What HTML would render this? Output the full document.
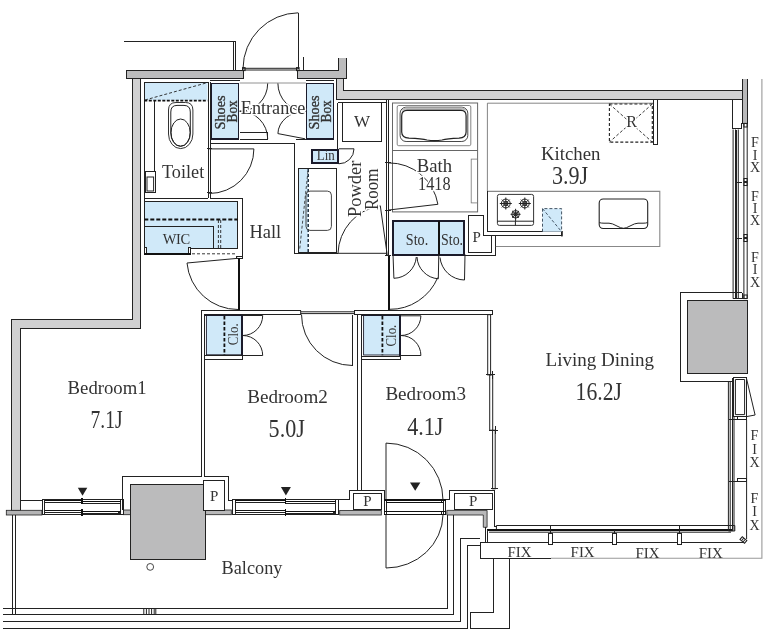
<!DOCTYPE html>
<html><head><meta charset="utf-8"><title>Floor Plan</title>
<style>
html,body{margin:0;padding:0;background:#fff;}
svg{display:block;}
text{font-family:"Liberation Serif",serif;fill:#333;}
.l{stroke:#222;stroke-width:1;fill:none;}
.t{stroke:#222;stroke-width:1;fill:none;}
.g{stroke:#777;stroke-width:.8;fill:none;}
.k{stroke:#111;stroke-width:1.8;fill:none;}
.w{fill:#c9caca;stroke:#222;stroke-width:1;}
.c{fill:#bbbbbc;stroke:#222;stroke-width:1;}
.b{fill:#d0e9f9;stroke:#1b1b2b;stroke-width:1.6;}
.bf{fill:#d0e9f9;stroke:none;}
.d{stroke:#222;stroke-width:.9;fill:none;stroke-dasharray:3 2;}
.dk{stroke:#111;stroke-width:1.8;fill:none;stroke-dasharray:4 2;}
.l,.k,.w,.c,.b{shape-rendering:crispEdges;}
.a{shape-rendering:auto;}
.h{stroke:#fff;stroke-width:3;paint-order:stroke;stroke-linejoin:round;}
</style></head><body>
<svg width="779" height="637" viewBox="0 0 779 637">
<rect width="779" height="637" fill="#fff"/>
<!--WALLS-->
<g id="walls">
<rect x="126.3" y="70.5" width="116.9" height="7.7" style="fill:#bcbcbd;stroke:#222;stroke-width:1;shape-rendering:crispEdges"/>
<path d="M132,78.2H140V328.6H20V510.4H11.6V319.6H132Z" style="fill:#d0d0d1;stroke:#222;stroke-width:1;shape-rendering:crispEdges"/>
<rect x="6.3" y="510.3" width="35.6" height="4.7" style="fill:#b4b4b5;stroke:#222;stroke-width:.8"/>
<path d="M336,78.2H343.1V90.6H742.1V99.5H336Z" style="fill:#d0d0d1;stroke:#222;stroke-width:1;shape-rendering:crispEdges"/>
<path d="M338.5,58V70.5H297.5V78.2H346.7V58" style="fill:#bcbcbd;stroke:#222;stroke-width:1;shape-rendering:crispEdges"/>
<path d="M742.1,79.1V123.4H747.7V79.1" style="fill:#b8b8b9;stroke:#222;stroke-width:1;shape-rendering:crispEdges"/>
</g>
<!--top-left corridor + entrance door-->
<g id="entry">
<path class="l" d="M124.2,41.2H235.6V70.3M233.1,41.2V70.3"/>
<path class="l" d="M298.3,12.8V69.3M303.5,57V70.5"/>
<path class="t" d="M298.3,12.8A56,56 0 0 0 243,68.5"/>
<path class="t" d="M243,68.3H298.3M243,70H298.3"/>
<rect class="t" x="242.5" y="67.6" width="2.6" height="3"/><rect class="t" x="296.5" y="67.6" width="2.6" height="3"/>
<!--entrance floor-->
<path class="g" d="M239.7,83H305.9"/><path class="l" d="M210.4,80.3H239.7M305.7,80.3H334"/>
<path class="l" d="M239.7,132.8H267.7V139.1M239.7,139.1H267.7M296,139.1H305.9M210.6,143H294.6V253.3H337.9"/>
<path class="t" d="M277.9,133.6L305.1,138.8"/>
<path class="t" d="M267.7,83.4A28,28 0 0 1 239.7,111.4M267.7,139A28,28 0 0 0 239.7,111M277.9,83.4A28,28 0 0 0 305.9,111.4M277.9,133.6A28,23 0 0 1 305.9,111"/>
<rect class="b" x="211" y="83.6" width="27.6" height="55.2"/>
<rect class="b" x="306.6" y="83.6" width="27" height="55.2"/>
</g>
<!--toilet-->
<g id="toilet">
<rect class="bf" x="144.3" y="82.2" width="63.2" height="18"/>
<path class="l" d="M144.3,198V82.2H208V198M144.3,198H207.5M210.4,82.2V198M154.5,100.2V171.7"/>
<path class="dk" d="M144.3,100.7H207.5" style="stroke-dasharray:3 1.5"/>
<path class="d" d="M145,100L207.5,82.6"/>
<rect class="l" x="145.2" y="171.7" width="9.8" height="21.2"/><rect class="t" x="147" y="177" width="6.6" height="14"/>
<path class="l a" d="M168.5,110Q168.5,102.5 176,102.5H185.5Q192.9,102.5 192.9,110V134A12.2,14.6 0 0 1 168.5,134Z" style="stroke:#333"/>
<path class="t" d="M170.8,112Q170.8,105.4 177,105.4H184Q190.3,105.4 190.3,112V133A9.75,13.3 0 0 1 170.8,133Z"/>
<ellipse class="t" cx="180.6" cy="132.6" rx="9.6" ry="13.6"/>
<path class="l" d="M207,148.5H212M207,192.9H212"/>
<path class="t" d="M209.3,148.9H253.9A44.6,44.6 0 0 1 209.3,193.5"/>
</g>
<!--WIC-->
<g id="wic">
<path class="bf" d="M144.3,201.7H237.7V248.4H190.6V254H144.3Z"/>
<path class="l" d="M210.4,198H242.2V256.5M144.3,201.7H237.7V248.4H190.6M144.3,198V254M144.3,226.5H213.8V248.4"/>
<path class="dk" d="M144.3,219.5H237.7"/>
<path class="d" d="M218.4,220V248.4M220.7,220V248.4"/>
<rect class="l" x="144.3" y="247.5" width="2.3" height="6.5" style="fill:#fff"/><rect class="l" x="188.6" y="247.5" width="2.2" height="6.5" style="fill:#fff"/>
<path class="k" d="M144.3,254H190.8"/>
<path class="d" d="M192,253.8H236"/>
<rect class="l" x="236.8" y="256.5" width="5.8" height="1.8"/>
<path class="k" d="M239.2,258.3V310"/>
<path class="t" d="M238,258.3L187,263A51,51 0 0 0 238,309.5"/>
</g>

<!--powder room-->
<g id="powder">
<path class="l" d="M337.9,102.7V148.8M337.9,102.7H386.8M386.8,99.5V255.5M388.8,99.5V310"/>
<rect class="l" x="342.7" y="102.7" width="39" height="38.7"/>
<rect class="b" x="311.8" y="149.8" width="26.4" height="13.2" style="stroke-width:2"/>
<path class="t" d="M338.8,148.8H354A15,15 0 0 1 338.8,163.8"/>
<rect class="bf" x="299" y="169" width="9.2" height="83"/>
<rect class="l" x="298.4" y="168.5" width="38.1" height="83.9"/>
<path class="d" d="M308.2,169V252" style="stroke-width:1.4;stroke:#123"/><path class="d" d="M308,171L299.6,250" style="stroke-width:.8"/>
<rect class="g" x="306" y="191.1" width="25.4" height="39.3" rx="4" style="stroke:#444;stroke-width:1"/>
<path class="t" d="M387.3,255.5L380.3,205.8A49.5,49.5 0 0 0 338,253.3"/>
<path class="t" d="M338,253.3H386.8"/>
<path class="l" d="M384.5,162.9H390.5M384.5,210H390.5M384.5,255.5H390.5"/>
</g>
<!--bath-->
<g id="bath">
<rect class="g" x="392.5" y="103" width="85.1" height="108.9" style="stroke:#666;stroke-width:1"/>
<path class="g" d="M392.5,150.5H477.6" style="stroke:#666;stroke-width:1"/>
<rect class="g" x="397.2" y="105.5" width="73.6" height="40.2" rx="1.5" style="stroke:#666"/>
<rect x="400.1" y="107.2" width="67.7" height="34.3" rx="6" fill="#fff" stroke="#333" stroke-width=".9"/>
<path d="M405,107.6H463Q466,108.5 466.5,110.4H401.5Q402,108.5 405,107.6Z" fill="#bbb"/>
<path class="l a" d="M407,110.4H461Q466.1,110.4 466.1,116V132Q466.1,137.6 459,138.2Q447,138.6 442,140Q434.5,141.4 427,140Q422,138.6 409,138.2Q401.7,137.6 401.7,132V116Q401.7,110.4 407,110.4Z" style="stroke:#222;stroke-width:1.2"/>
<rect class="g" x="471.2" y="159.1" width="6.3" height="43.8" style="stroke:#777"/>
<path class="t" d="M388.8,210L437.9,204.3A49.5,49.5 0 0 0 388.8,162.9"/>
</g>
<!--storage-->
<g id="sto">
<rect class="b" x="393.2" y="221.2" width="71.2" height="33.4" style="stroke-width:1.9"/>
<path class="k" d="M438.8,221.2V254.6"/>
<path class="l" d="M468.9,215.5H483.5V235.4H491.7V252.3H468.9Z"/>
<path class="l" d="M465,255.1H495.8V235.4"/>
<path class="t" d="M393,254.4L393.9,278.3A23,23 0 0 0 416.3,257M438.8,254.4L438.3,278.8A23,23 0 0 1 417,257M465,254.4L464.5,280A25,25 0 0 1 440,257.5"/>
<path class="k" d="M388.8,255.7V310" style="stroke-width:1.6"/>
<path class="t" d="M389.5,309.3A52,53.5 0 0 0 437.8,277.5"/>
</g>
<!--kitchen-->
<g id="kitchen">
<path class="g" d="M487.4,191V103.2H653.2" style="stroke:#666"/>
<path class="l" d="M653.2,99.5V144.4H657.1V99.5"/>
<rect class="d" x="609.4" y="104" width="42.9" height="38.1" style="stroke-width:1.1"/>
<path class="d" d="M609.4,104L652.3,142.1M652.3,104L609.4,142.1" style="stroke-width:.9"/>
<path d="M487.4,191.4H659.8V246.5H495.8" fill="none" stroke="#888" stroke-width="1.1"/>
<path class="l" d="M487.4,191V231.7H562.1M491.7,235.4H562.1" style="stroke-width:1.1"/>
<rect x="561" y="231" width="1.8" height="5.4" fill="#222"/>
<rect class="l a" x="497.4" y="194.4" width="36.2" height="31" rx="2" style="stroke:#333"/>
<path class="t" d="M497.4,221.2H533.6M515.4,221.2V225.4"/>
<g class="t" style="stroke:#222">
<circle cx="505.8" cy="203.5" r="4.4"/><circle cx="505.8" cy="203.5" r="2.2"/><path d="M499.8,203.5H511.8M505.8,197.5V209.5M501.9,199.6L509.7,207.4M509.7,199.6L501.9,207.4"/>
<circle cx="524.8" cy="203.5" r="4.4"/><circle cx="524.8" cy="203.5" r="2.2"/><path d="M518.8,203.5H530.8M524.8,197.5V209.5M520.9,199.6L528.7,207.4M528.7,199.6L520.9,207.4"/>
<circle cx="515.6" cy="214.3" r="3.8"/><circle cx="515.6" cy="214.3" r="1.8"/><path d="M510.6,214.3H520.6M515.6,208.8V221.2M512.2,210.9L519,217.7M519,210.9L512.2,217.7"/>
</g>
<rect x="542.5" y="208.6" width="19.1" height="23.1" fill="#d0e9f9"/>
<path class="d" d="M542.5,231.7V208.6H561.6V231.7M542.5,208.6L561.6,231.7" style="stroke:#345"/>
<rect class="l a" x="599.2" y="199" width="48.5" height="29.5" rx="4" style="stroke:#222;stroke-width:1.1"/>
<path class="l a" d="M599.4,222.6Q601,223.2 604,223.2H609Q612,223.2 617,226Q621,228.3 623.5,228.3Q626,228.3 630,226Q635,223.2 638,223.2H643Q646,223.2 647.5,222.6" style="stroke:#222"/>
</g>

<!--bedroom 2-->
<g id="br2">
<path class="l" d="M201.3,476.7V310.6H300.7M204.9,476.7V314.5H300.7M201.3,476.7H122V510.4M204.9,476.7H228.5V500.9H232.7"/>
<rect x="206.4" y="315.2" width="35.6" height="39.6" style="fill:#d0e9f9;stroke:#1b1b2b;stroke-width:.9"/><path class="k" d="M205,315.4H242.8M242,314.7V355.8" style="stroke:#1b1b2b;stroke-width:1.7"/>
<path class="dk" d="M224.4,316V355" style="stroke-dasharray:3.5 2"/>
<path class="l" d="M204.9,359.2H242.6V355.5M204.9,355.8H242"/>
<path class="t" d="M242.8,315.5H262.7A20,20 0 0 1 242.8,335.5A20,20 0 0 1 262.7,355.5H242.8"/>
<path class="t" d="M300.7,310.6V314.5M300.7,311.8H354.6M300.7,313.6H354.6"/>
<path class="l" d="M352.5,314.5V365.8"/>
<path class="t" d="M301.5,314.5A51,51 0 0 0 352.5,365.5"/>
<path class="l" d="M357.9,490V314.7M361.9,490V314.7"/>
</g>
<!--bedroom 3-->
<g id="br3">
<path class="l" d="M354.1,314.7V310.9H492.4V314.7H354.1"/>
<rect x="363.6" y="315.4" width="36.4" height="39.6" style="fill:#d0e9f9;stroke:#1b1b2b;stroke-width:.9"/><path class="k" d="M362.2,315.6H400.8M400,314.9V356" style="stroke:#1b1b2b;stroke-width:1.7"/>
<path class="dk" d="M382.4,316V355.3" style="stroke-dasharray:3.5 2"/>
<path class="l" d="M361.9,359.6H400.6V355.8M361.9,356H400"/>
<path class="t" d="M400.8,315.8H420.9A20,20 0 0 1 400.8,335.5A20,20 0 0 1 420.9,355.5H400.8"/>
<!--sliding doors-->
<rect class="t" x="487.7" y="314.7" width="2.9" height="60.2"/>
<rect class="t" x="489.7" y="374.9" width="3" height="55.3"/>
<rect class="t" x="492.6" y="430.2" width="2.6" height="58.6"/>
<path class="l" d="M485.5,374.9H494.5M488.5,430.2H497.5M491,488.8H498M492.5,371V379M495.3,426V434"/>
</g>

<!--bottom wall / windows-->
<g id="bottom">
<!--gray strips-->
<rect x="123.4" y="510" width="8" height="4.7" fill="#b8b8b9" stroke="#222" stroke-width=".8"/>
<rect x="205" y="510" width="26.3" height="4.7" fill="#b8b8b9" stroke="#222" stroke-width=".8"/>
<rect x="339.7" y="510.4" width="41.6" height="4.6" fill="#b8b8b9" stroke="#222" stroke-width=".8"/>
<path d="M446.8,510.4H487.1V527.3H483.3V515H446.8Z" fill="#b8b8b9" stroke="#222" stroke-width=".8"/>
<!--column balcony-->
<path class="c" d="M130,484.7H203.1V508.5H205.1V559.3H130Z"/>
<path class="l" d="M20,500.1H42.4"/>
<!--P boxes-->
<rect class="l" x="203.1" y="480.3" width="21.7" height="29.7" style="fill:#fff"/>
<path class="l" d="M338.4,499H349.4V490.8H384.7V499.6"/>
<rect class="l" x="353.6" y="493.1" width="27.7" height="16.4"/>
<path class="l" d="M445.5,499.6H449.4V490H494.3V526H497"/>
<rect class="l" x="454" y="493.1" width="38.3" height="16.4"/>
<!--windows-->
<g id="win1" style="shape-rendering:crispEdges">
<path class="t" d="M42.2,514.7V499.4H123.1V514.7M44.6,499.4V514.7M120.5,499.4V514.7M42.2,514.7H123.1" style="stroke:#222"/>
<path class="l" d="M44.6,500.6H82.3M82.3,501.2H120.5" style="stroke-width:1.4;stroke:#111"/>
<path class="t" d="M44.6,502.8H82.3M82.3,503.3H120.5" style="stroke:#222"/>
<path class="l" d="M44.6,510.6H82.3M82.3,511.3H120.5" style="stroke-width:1.3;stroke:#111"/>
<path class="t" d="M44.6,512.8H82.3M82.3,513.6H120.5" style="stroke:#222"/>
<path class="l" d="M82.3,498.3V504.2M82.3,508.6V515.8" style="stroke-width:1.7;stroke:#111"/>
<rect x="118.7" y="512.2" width="1.4" height="1.6" class="t"/>
<path d="M77.8,487.8H87.3L82.5,495.8Z" fill="#222" style="shape-rendering:auto"/>
</g>
<g id="win2" style="shape-rendering:crispEdges">
<path class="t" d="M232.6,514.7V499.4H338.4V514.7M235.0,499.4V514.7M335.7,499.4V514.7M232.6,514.7H338.4" style="stroke:#222"/>
<path class="l" d="M235.0,500.6H285.5M285.5,501.2H335.7" style="stroke-width:1.4;stroke:#111"/>
<path class="t" d="M235.0,502.8H285.5M285.5,503.3H335.7" style="stroke:#222"/>
<path class="l" d="M235.0,510.6H285.5M285.5,511.3H335.7" style="stroke-width:1.3;stroke:#111"/>
<path class="t" d="M235.0,512.8H285.5M285.5,513.6H335.7" style="stroke:#222"/>
<path class="l" d="M285.5,498.3V504.2M285.5,508.6V515.8" style="stroke-width:1.7;stroke:#111"/>
<rect x="333.9" y="512.2" width="1.4" height="1.6" class="t"/>
<path d="M280.9,487H290.9L285.9,495.4Z" fill="#222" style="shape-rendering:auto"/>
</g>
<g id="door3">
<path class="t" style="shape-rendering:crispEdges;stroke:#222" d="M384,514.6V499.6H445.5V514.6M386.2,499.6V514.6M443.2,499.6V514.6M441.2,499.6V503M441.2,511.4V514.6"/>
<path class="l" style="shape-rendering:crispEdges;stroke-width:1.3;stroke:#111" d="M384,500.1H445.5M384,511.5H445.5"/>
<path class="l" style="shape-rendering:crispEdges;stroke-width:1;stroke:#111" d="M386.2,502.9H443.2M384,514.4H445.5"/>
<path class="t" d="M386,499.6V443.1A57,57 0 0 1 443,500.1M443,514.6A57,54 0 0 1 386,568V514.6"/>
<path d="M410,482.4H420.4L415.2,490.8Z" fill="#222"/>
</g>
</g>
<!--balcony-->
<g id="balcony">
<circle class="t" cx="150.2" cy="566.9" r="3.4" style="stroke:#333;stroke-width:.9"/>
<path class="l" d="M12.3,515V613.8M15.4,515V613.8"/>
<path class="l" d="M3,608H447.7V515.3M3,614.2H453.9V515.3M3,621.2H460.8V538.6H480.4M3,628.4H467.7V545.4H480.4"/>
<path class="t" d="M143.8,608V614.2M146.4,608V614.2M149,608V614.2M151.6,608V614.2M154.2,608V614.2M155.8,608V614.2"/>
<path class="l" d="M493.5,558.3V612.4H470.6V628.3H509.9V558.3"/>
</g>
<!--FIX bottom window-->
<g id="fixb">
<path class="l" d="M480.4,558.3V542.8M480.4,542.8H744.5M480.4,558.3H551"/>
<path d="M551,558.3H761.9V79" fill="none" stroke="#999" stroke-width="1.1"/>
<path class="t" d="M496.4,525.5H728.4M496.4,525.5V530"/>
<path class="k" d="M487.3,530.2H732.5" style="stroke-width:1.6"/>
<path class="l" d="M485.4,527.3V542.8M487.8,530.2V542.8" style="stroke-width:1.2"/>
<path class="t" d="M489,532.2H731"/>
<rect class="l" x="548.3" y="533.6" width="3.7" height="11" style="fill:#fff"/>
<rect class="l" x="612.5" y="533.6" width="3.9" height="11" style="fill:#fff"/>
<rect class="l" x="677.7" y="533.6" width="3.6" height="11" style="fill:#fff"/>
<path class="l" d="M550,525.5V533.6M614.4,530.2V533.6M679.5,525.5V533.6"/>
<g transform="rotate(40 743.4 540)"><rect class="t" x="740.4" y="538.2" width="6" height="3.6" style="fill:#fff;stroke:#222"/><path class="t" d="M742.4,538.2V541.8M744.4,538.2V541.8"/></g>
</g>

<!--right side-->
<g id="right">
<!--upper right windows-->
<path class="l" d="M732.2,99.5V128.4H741.8V123.4"/>
<path class="t" d="M733.1,129.5V298.6M735.5,129.5V298.6M738.3,129.5V298.6M743.9,123.4V298.6M747.2,123.4V298.6"/>
<path class="l" d="M736.6,129.5V298.6" style="stroke-width:1.3"/>
<rect class="t" x="743.9" y="123.4" width="3.3" height="3.6"/><rect class="t" x="743.9" y="178.5" width="3.3" height="3"/><rect class="t" x="743.9" y="182.5" width="3.3" height="3"/><rect class="t" x="743.9" y="234.5" width="3.3" height="3"/><rect class="t" x="743.9" y="238.5" width="3.3" height="3"/><rect class="t" x="743.9" y="295" width="3.3" height="3.6"/>
<path class="l" d="M734.5,182.2H741.5M734.5,238.2H741.5M733.1,298.6H747.2"/>
<!--column-->
<path class="l" d="M742.3,292.6H680.5V381.7H732.9" style="fill:none"/>
<path class="l" d="M742.3,292.6V298.6M732.9,381.7V377.5"/>
<rect class="c" x="687.7" y="300.2" width="59.7" height="73.4"/>
<!--lower right windows-->
<path class="t" d="M728.4,381.7V531M730.2,381.7V529M734,416.6V531M746.6,419.7V539"/>
<path class="l" d="M732.5,381.7V531" style="stroke-width:1.3"/>
<path class="l" d="M733.4,377.5H746.6V416.6H733.4Z"/>
<path class="t" d="M735.4,379.5H744.6V414.6H735.4Z"/>
<path class="t" d="M746.6,378.9L755.1,415L746.6,416.6"/>
<rect class="l" x="737" y="416.6" width="9.6" height="3.1" style="fill:#fff"/><rect class="l" x="737" y="478" width="9.6" height="3.1" style="fill:#fff"/>
<path class="l" d="M729,419.7H737M729,481.1H737"/>
<path class="t" d="M728.4,531H734.8V525.5M728.4,525.5H734.8"/>
</g>

<!--labels-->
<g id="labels" style="filter:grayscale(1)">
<text class="h" x="240.8" y="113.5" font-size="19" textLength="64.6" lengthAdjust="spacingAndGlyphs">Entrance</text>
<text x="162" y="177.7" font-size="19" textLength="42.2" lengthAdjust="spacingAndGlyphs">Toilet</text>
<text x="249.4" y="238.4" font-size="19" textLength="31.8" lengthAdjust="spacingAndGlyphs">Hall</text>
<text x="162.8" y="244" font-size="14.5" textLength="27.4" lengthAdjust="spacing">WIC</text>
<text class="h" x="416.7" y="171.8" font-size="19" textLength="35.3" lengthAdjust="spacingAndGlyphs">Bath</text>
<text class="h" x="418" y="190.2" font-size="19" textLength="32.6" lengthAdjust="spacingAndGlyphs">1418</text>
<text x="541" y="159.7" font-size="19" textLength="59.5" lengthAdjust="spacingAndGlyphs">Kitchen</text>
<text x="552" y="183.6" font-size="25.5" textLength="36.2" lengthAdjust="spacingAndGlyphs">3.9J</text>
<text x="545.5" y="366.2" font-size="19" textLength="108.5" lengthAdjust="spacingAndGlyphs">Living Dining</text>
<text x="575.6" y="399.6" font-size="26" textLength="46.4" lengthAdjust="spacingAndGlyphs">16.2J</text>
<text x="67.6" y="394.3" font-size="19" textLength="79" lengthAdjust="spacingAndGlyphs">Bedroom1</text>
<text x="90.6" y="427.9" font-size="25.5" textLength="32" lengthAdjust="spacingAndGlyphs">7.1J</text>
<text x="247.2" y="403.2" font-size="19" textLength="80.6" lengthAdjust="spacingAndGlyphs">Bedroom2</text>
<text x="268.6" y="437" font-size="25.5" textLength="36.2" lengthAdjust="spacingAndGlyphs">5.0J</text>
<text x="385.4" y="400" font-size="19" textLength="80.6" lengthAdjust="spacingAndGlyphs">Bedroom3</text>
<text x="407.2" y="434.8" font-size="25.5" textLength="36.2" lengthAdjust="spacingAndGlyphs">4.1J</text>
<text x="221.6" y="573.8" font-size="19" textLength="60.8" lengthAdjust="spacingAndGlyphs">Balcony</text>
<text x="361.9" y="127.2" font-size="17" text-anchor="middle">W</text>
<text class="h" x="631.7" y="127" font-size="16" text-anchor="middle">R</text>
<text x="316.8" y="159.9" font-size="14.5" textLength="18" lengthAdjust="spacingAndGlyphs">Lin</text>
<text x="405.8" y="244.9" font-size="16" textLength="22.4" lengthAdjust="spacingAndGlyphs">Sto.</text>
<text x="441.1" y="244.9" font-size="16" textLength="22" lengthAdjust="spacingAndGlyphs">Sto.</text>
<text x="214.1" y="501" font-size="15" text-anchor="middle">P</text>
<text x="476.6" y="241.8" font-size="15" text-anchor="middle">P</text>
<text x="367.5" y="506.2" font-size="15" text-anchor="middle">P</text>
<text x="473.2" y="506.2" font-size="15" text-anchor="middle">P</text>
<text transform="translate(237.8,345.2) rotate(-90)" font-size="15.5" textLength="21.8" lengthAdjust="spacingAndGlyphs">Clo.</text>
<text transform="translate(396.2,346.5) rotate(-90)" font-size="15.5" textLength="21.8" lengthAdjust="spacingAndGlyphs">Clo.</text>
<text transform="translate(224.7,129.4) rotate(-90)" font-size="15" textLength="33.9" lengthAdjust="spacingAndGlyphs" style="stroke:#333;stroke-width:.35">Shoes</text>
<text transform="translate(236.6,122.4) rotate(-90)" font-size="15" textLength="22.1" lengthAdjust="spacingAndGlyphs" style="stroke:#333;stroke-width:.35">Box</text>
<text transform="translate(319.4,129.4) rotate(-90)" font-size="15" textLength="33.9" lengthAdjust="spacingAndGlyphs" style="stroke:#333;stroke-width:.35">Shoes</text>
<text transform="translate(330.7,122.4) rotate(-90)" font-size="15" textLength="22.1" lengthAdjust="spacingAndGlyphs" style="stroke:#333;stroke-width:.35">Box</text>
<text class="h" transform="translate(360.5,217.1) rotate(-90)" font-size="18" textLength="56.5" lengthAdjust="spacingAndGlyphs">Powder</text>
<text class="h" transform="translate(377.5,210) rotate(-90)" font-size="18" textLength="41.5" lengthAdjust="spacingAndGlyphs">Room</text>
<g font-size="15">
<text x="507.4" y="556.8" textLength="24" lengthAdjust="spacingAndGlyphs">FIX</text>
<text x="570.6" y="556.8" textLength="24" lengthAdjust="spacingAndGlyphs">FIX</text>
<text x="635.4" y="558" textLength="24" lengthAdjust="spacingAndGlyphs">FIX</text>
<text x="698.8" y="558" textLength="24" lengthAdjust="spacingAndGlyphs">FIX</text>
</g>
<g font-size="14" text-anchor="middle">
<text x="755" y="147.3">F</text><text x="755" y="159.6">I</text><text x="755" y="171.9">X</text>
<text x="755" y="200.5">F</text><text x="755" y="212.8">I</text><text x="755" y="225">X</text>
<text x="755" y="262">F</text><text x="755" y="274.3">I</text><text x="755" y="286.5">X</text>
<text x="754.5" y="440.3">F</text><text x="754.5" y="453.6">I</text><text x="754.5" y="467">X</text>
<text x="754.5" y="503.1">F</text><text x="754.5" y="516.4">I</text><text x="754.5" y="529.8">X</text>
</g>
</g>

<!--SECTIONS-->
</svg>
</body></html>
